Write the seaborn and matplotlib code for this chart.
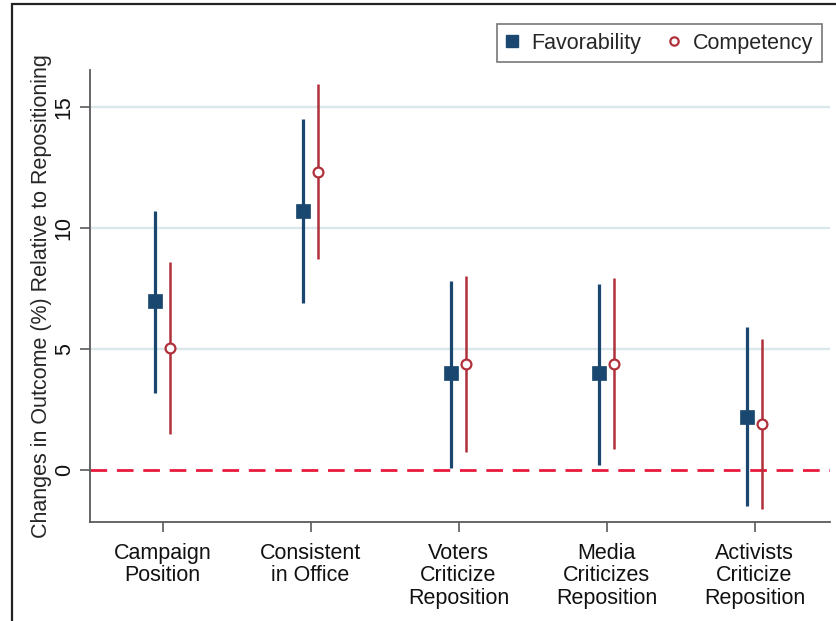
import numpy as np
import pandas as pd
import seaborn as sns
import matplotlib.pyplot as plt
from matplotlib.lines import Line2D
from matplotlib.patches import Rectangle

# Treatment conditions (x axis)
conditions = ["Campaign\nPosition", "Consistent\nin Office", "Voters\nCriticize\nReposition",
              "Media\nCriticizes\nReposition", "Activists\nCriticize\nReposition"]

# Point estimates and 95% intervals, percentage-point change vs. repositioning
fav_est = [7.0, 10.7, 4.0, 4.0, 2.2]
fav_lo = [3.2, 6.9, 0.1, 0.2, -1.5]
fav_hi = [10.7, 14.5, 7.8, 7.7, 5.9]

comp_est = [5.05, 12.3, 4.4, 4.4, 1.9]
comp_lo = [1.5, 8.7, 0.75, 0.85, -1.6]
comp_hi = [8.6, 15.95, 8.0, 7.95, 5.4]

yticks = [0, 5, 10, 15]

NAVY = "#1a476f"
RED = "#b0303a"
ZERO = "#e8193c"
GRID = "#dae8ec"
AXIS = "#5a5a5a"
FS = 15.5

sns.set_theme(style="white")
plt.rcParams["font.family"] = ["Liberation Sans", "DejaVu Sans"]

rows = []
for i, c in enumerate(conditions):
    rows.append(dict(cond=c, idx=i, series="Favorability", est=fav_est[i], lo=fav_lo[i], hi=fav_hi[i]))
    rows.append(dict(cond=c, idx=i, series="Competency", est=comp_est[i], lo=comp_lo[i], hi=comp_hi[i]))
df = pd.DataFrame(rows)
offsets = {"Favorability": -0.05, "Competency": 0.05}
df["xpos"] = df["idx"] + df["series"].map(offsets)

fig = plt.figure(figsize=(8.36, 6.21), dpi=100)
ax = fig.add_axes([90 / 836, 1 - 522 / 621, (830 - 90) / 836, (522 - 70) / 621])

# frame around the graph region
fig.patches.append(Rectangle((12 / 836, -0.1), 1.2, 1 - 4 / 621 + 0.1, transform=fig.transFigure,
                             fill=False, edgecolor="#222222", linewidth=1.6, zorder=10))

for y in yticks[1:]:
    ax.axhline(y, color=GRID, lw=1.7, zorder=0)
ax.axhline(0, color=ZERO, lw=2.0, dashes=(6, 3.5), zorder=1)

fav = df[df.series == "Favorability"]
comp = df[df.series == "Competency"]
ax.vlines(fav["xpos"], fav["lo"], fav["hi"], color=NAVY, lw=2.3, zorder=2)
ax.vlines(comp["xpos"], comp["lo"], comp["hi"], color=RED, lw=1.8, zorder=2)

sns.scatterplot(data=fav, x="xpos", y="est", marker="s", s=115, color=NAVY,
                edgecolor=NAVY, linewidth=0.5, ax=ax, zorder=3, legend=False)
sns.scatterplot(data=comp, x="xpos", y="est", marker="o", s=50, facecolor="white",
                edgecolor=RED, linewidth=1.6, ax=ax, zorder=3, legend=False)

ax.set_xlim(-0.49, 4.51)
ax.set_ylim(-2.15, 16.53)
ax.set_xticks(range(len(conditions)))
ax.set_xticklabels(conditions, fontsize=FS, linespacing=1.1)
ax.set_yticks(yticks)
ax.set_yticklabels([str(t) for t in yticks], fontsize=FS, rotation=90, va="center")
ax.set_xlabel("")
ax.set_ylabel("Changes in Outcome (%) Relative to Repositioning", fontsize=FS, labelpad=1)

for s in ["top", "right"]:
    ax.spines[s].set_visible(False)
for s in ["left", "bottom"]:
    ax.spines[s].set_color(AXIS)
    ax.spines[s].set_linewidth(1.3)
ax.tick_params(axis="both", which="major", direction="out", length=7, width=1.2,
               color=AXIS, left=True, bottom=True, pad=4, labelcolor="#111111")
ax.tick_params(axis="x", pad=8)

handles = [
    Line2D([], [], marker="s", color=NAVY, linestyle="none", markersize=9),
    Line2D([], [], marker="o", markerfacecolor="white", markeredgecolor=RED,
           markeredgewidth=1.6, linestyle="none", markersize=6),
]
leg = fig.legend(handles, ["Favorability", "Competency"], ncol=2, loc="upper right",
                 bbox_to_anchor=(822 / 836, 1 - 24 / 621), bbox_transform=fig.transFigure,
                 borderaxespad=0, frameon=True, fancybox=False, fontsize=FS,
                 handletextpad=0.6, columnspacing=1.2, borderpad=0.4, handlelength=0.6)
leg.get_frame().set_edgecolor("#555555")
leg.get_frame().set_linewidth(1.2)

fig.savefig("out.png", dpi=100)
